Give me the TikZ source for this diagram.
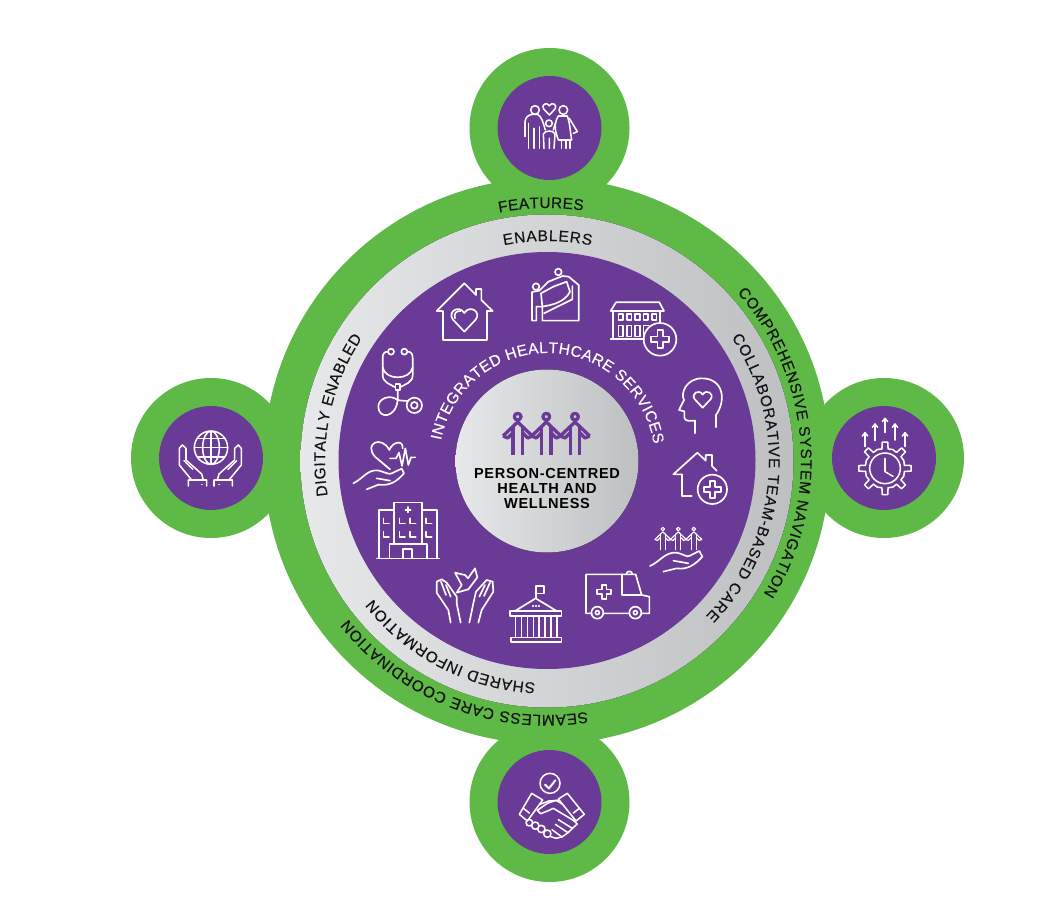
\documentclass[tikz,border=0pt]{standalone}
\usepackage{fontspec}
\setmainfont{Liberation Sans}
\newfontfamily\cfont[LetterSpace=5]{Liberation Sans}
\newfontfamily\afont[FakeBold=0.25]{Liberation Sans}
\usetikzlibrary{decorations.text,arrows.meta}
\definecolor{grn}{HTML}{5FB946}
\definecolor{pur}{HTML}{6A3B96}
\definecolor{gl}{HTML}{E7E8E9}
\definecolor{gd}{HTML}{BDBFC1}
\definecolor{ink}{HTML}{141414}
\tikzset{
  ic/.style={draw=white,line width=1.25pt,line join=round,line cap=round},
  sm/.style={draw=white,line width=1.15pt,line join=round,line cap=round},
  za/.style={shift={(340,250)},x=.25pt,y=-.25pt},
  zb/.style={shift={(340,440)},x=.25pt,y=-.25pt},
  zs/.style={shift={(#1)},x=.25pt,y=-.25pt},
  ringshade/.style={left color=gl,right color=gd},
}
\newcommand\arcT[6]{\path[decorate,decoration={text along path,text={|\color{#4}\afont\fontsize{#6}{13}\selectfont|#5},text align={fit to path}}] (#2:#1) arc[start angle=#2,end angle=#3,radius=#1];}
\newcommand\hrt[3]{\draw[shift={(#1,#2)},scale=#3] (0,1) -- (-.85,.1) .. controls (-1.3,-.5) and (-.4,-1.05) .. (0,-.4) .. controls (.4,-1.05) and (1.3,-.5) .. (.85,.1) -- cycle;}
\newcommand\crs[4]{\draw[shift={(#1,#2)}] (-#4,-#3) -- (#4,-#3) -- (#4,-#4) -- (#3,-#4) -- (#3,#4) -- (#4,#4) -- (#4,#3) -- (-#4,#3) -- (-#4,#4) -- (-#3,#4) -- (-#3,-#4) -- (-#4,-#4) -- cycle;}
\newcommand\chn{\foreach \c in {-86,0,86}{
  \draw (\c,0) circle[radius=10];
  \draw (\c-14,115) -- (\c-14,28) (\c+14,115) -- (\c+14,28);
  \draw (\c-44,58) -- (\c,16) -- (\c+44,58);
  \draw (\c-14,48) -- (\c-30,64) -- (\c-44,58) (\c+14,48) -- (\c+30,64) -- (\c+44,58);
}}
\begin{document}
\begin{tikzpicture}[x=.75pt,y=-.75pt]
\useasboundingbox (0,0) rectangle (1064,909);
\fill[white] (0,0) rectangle (1064,909);
% satellites
\fill[grn] (549.5,128) circle[radius=80];
\fill[grn] (211,458) circle[radius=80];
\fill[grn] (884,458) circle[radius=80];
\fill[grn] (549.5,802) circle[radius=80];
% main rings
\fill[grn] (547,461) circle[radius=283];
\fill[ringshade] (547,461) circle[radius=246.5];
\fill[pur] (547,460.5) circle[radius=208.5];
\fill[ringshade] (547,461) circle[radius=91.5];
\fill[pur] (549.5,128) circle[radius=52];
\fill[pur] (211,458) circle[radius=52];
\fill[pur] (884,458) circle[radius=52];
\fill[pur] (549.5,802) circle[radius=52];
% curved labels
\begin{scope}[shift={(547,461)},y=.75pt]
\arcT{253}{100.9}{81.8}{ink}{FEATURES}{11.6}
\arcT{220}{101.3}{78.4}{ink}{ENABLERS}{11.6}
\arcT{254}{41.5}{-31.5}{ink}{COMPREHENSIVE SYSTEM NAVIGATION}{11.5}
\arcT{222}{33.8}{-44.3}{ink}{COLLABORATIVE TEAM-BASED CARE}{11.5}
\arcT{254}{-80.9}{-141.5}{ink}{SEAMLESS CARE COORDINATION}{11.6}
\arcT{222}{-93}{-141.6}{ink}{SHARED INFORMATION}{11.6}
\arcT{222}{189}{146.3}{ink}{DIGITALLY ENABLED}{11.6}
\arcT{108}{169}{9}{white}{INTEGRATED HEALTHCARE SERVICES}{11.6}
\end{scope}
% centre
\node[font=\cfont\bfseries\fontsize{10.9}{11.25}\selectfont,align=center,text=black,inner sep=0] (centre) at (547,488) {PERSON-CENTRED\\HEALTH AND\\WELLNESS};
\begin{scope}[zs={450,370},shift={(289,140)},draw=pur,line width=2.5pt,line join=round]
\chn
\end{scope}
% ---- ring icons, first crop
\begin{scope}[za,ic]
% house heart
\draw (306,183) -- (290,183) -- (373,100) -- (408,135) -- (408,117) -- (424,117) -- (424,150) -- (458,183) -- (440,183);
\draw (308,183) -- (308,270) -- (440,270) -- (440,183);
\hrt{373}{205}{40}
\draw (345,205) .. controls (340,190) and (350,182) .. (362,183);
% climbers
\draw (655,66) circle[radius=10];
\draw (588,110) circle[radius=10];
\draw (598,122) -- (576,126) -- (576,212) -- (589,212) -- (589,170) -- (607,170) -- (607,212) -- (716,212) -- (716,105) -- (686,80) -- (668,78) -- (625,95) -- (598,122);
\draw (603,130) -- (640,110) -- (680,95) -- (690,125) .. controls (675,155) and (640,165) .. (605,170);
\draw (603,130) -- (607,170);
\draw (697,108) -- (697,148) -- (612,190);
% hospital plus
\draw (812,183) -- (828,157) -- (958,157) -- (972,183) -- cycle;
\draw (818,183) -- (818,267) (812,267) -- (912,267) (960,183) -- (960,218);
\foreach \x in {835,860,885,910,935}{\draw (\x,193) rectangle ++(14,17);}
\foreach \x in {835,860,885}{\draw (\x,227) rectangle ++(14,33);}
\draw (910,260) -- (910,227) -- (926,227);
\draw (960,268) circle[radius=49];
\crs{960}{268}{27}{8}
% head heart
\draw (1128,532) -- (1128,495) .. controls (1160,450) and (1150,385) .. (1085,385) .. controls (1040,385) and (1020,430) .. (1032,450) -- (1017,480) -- (1033,484) -- (1033,502) .. controls (1035,516) and (1050,512) .. (1065,512) -- (1065,550);
\hrt{1088}{445}{28}
% stethoscope
\draw (153,305) circle[radius=9] (193,305) circle[radius=9];
\draw (143,305) .. controls (132,305) and (128,312) .. (128,325) -- (128,375) .. controls (128,398) and (150,402) .. (166,412);
\draw (203,305) .. controls (214,305) and (218,312) .. (218,325) -- (218,375) .. controls (218,398) and (196,402) .. (180,412);
\draw (128,352) .. controls (135,392) and (211,392) .. (218,352);
\draw (166,402) rectangle (180,420);
\draw (173,420) -- (173,450) .. controls (150,432) and (115,445) .. (115,470) .. controls (115,508) and (168,505) .. (173,450) .. controls (180,452) and (190,452) .. (203,453);
\draw (223,466) circle[radius=23] (223,466) circle[radius=10];
\end{scope}
\begin{scope}[zb,ic]
% heart in hand
\draw (150,88) -- (105,50) .. controls (70,10) and (125,-15) .. (148,30) .. controls (158,5) and (190,-2) .. (188,25);
\draw (150,55) -- (168,55) -- (177,38) -- (186,78) -- (196,25) -- (205,75) -- (213,52) -- (226,52);
\draw (40,130) .. controls (70,115) and (85,85) .. (118,92) .. controls (135,97) and (150,105) .. (155,100) -- (185,86) -- (192,100) .. controls (170,125) and (150,138) .. (115,134) -- (80,148);
\draw (110,115) -- (150,122);
% hospital
\draw (162,310) -- (162,187) -- (246,187) -- (246,310);
\draw (162,210) -- (116,210) -- (116,355) (246,210) -- (290,210) -- (290,355) (110,355) -- (298,355);
\draw (148,355) -- (148,312) -- (260,312) -- (260,355);
\draw (188,355) -- (188,327) -- (216,327) -- (216,355);
\draw (196,209) -- (212,209) (204,201) -- (204,217);
\foreach \x in {130,178,210,258}{\foreach \y in {235,275}{\draw (\x,\y) -- ++(0,15) -- ++(17,0);}}
% dove hands
\draw (332,548) -- (325,510) -- (290,458) -- (290,425) -- (305,418) -- (320,428) -- (350,470) -- (350,490) -- (362,548);
\draw (303,425) -- (318,465) (318,435) -- (332,470);
\draw (388,548) -- (400,490) -- (408,455) -- (440,420) -- (458,425) -- (460,455) -- (425,510) -- (415,548);
\draw (450,428) -- (432,468) (435,435) -- (418,470);
\draw (345,398) -- (375,405) -- (384,415) -- (405,385) -- (412,412) -- (385,448) -- (350,458) -- (365,435) -- cycle;
% courthouse
\draw (587,475) -- (587,438) -- (612,438) -- (612,460) -- (587,460);
\draw (525,513) -- (587,475) -- (650,513) -- cycle;
\draw (510,513) rectangle (664,528);
\draw (512,592) rectangle (664,606);
\foreach \x in {526,544,562,580,596,614,632,650}{\draw (\x,528) -- (\x,592);}
\draw (578,498) -- (580,498) (587,498) -- (589,498) (596,498) -- (598,498);
% ambulance
\draw (755,520) -- (738,520) -- (738,403) -- (887,403) -- (905,465) -- (928,470) -- (928,520) -- (905,520) (790,520) -- (868,520);
\draw (845,403) -- (845,465) -- (905,465);
\draw (859,403) .. controls (859,391) and (877,391) .. (877,403);
\draw (772,518) circle[radius=18] (772,518) circle[radius=6];
\draw (886,518) circle[radius=18] (886,518) circle[radius=6];
\crs{792}{455}{21}{7}
% house plus
\draw (1025,103) -- (1000,103) -- (1072,38) -- (1097,62) -- (1097,45) -- (1116,45) -- (1116,78) -- (1130,92);
\draw (1025,103) -- (1025,168) -- (1055,168);
\draw (1117,148) circle[radius=44];
\crs{1117}{148}{25}{8}
% people in hand
\begin{scope}[shift={(1015,267)},scale=.54,line width=.85pt]
\chn
\end{scope}
\draw (930,378) .. controls (960,365) and (975,335) .. (1010,338) .. controls (1030,342) and (1040,352) .. (1048,348) -- (1078,333) -- (1087,350) .. controls (1065,375) and (1040,390) .. (1010,385) -- (970,395);
\draw (1000,362) -- (1045,370);
\end{scope}
% ---- family
\begin{scope}[zs={490,70},sm]
\hrt{178}{115}{20}
\draw (135,120) circle[radius=13] (220,120) circle[radius=13] (177,160) circle[radius=10];
\draw (105,200) -- (105,155) .. controls (107,140) and (115,135) .. (128,133) -- (142,133) .. controls (155,138) and (160,160) .. (166,180);
\draw (115,200) -- (115,160) (115,185) -- (115,235) (132,175) -- (132,235) (148,170) -- (148,235);
\draw (205,138) .. controls (195,155) and (190,170) .. (205,210) -- (245,210) .. controls (240,180) and (240,160) .. (232,138) -- cycle;
\draw (238,145) -- (262,185) -- (250,190);
\draw (215,210) -- (215,235) (228,210) -- (228,235) (240,210) -- (240,235);
\draw (162,235) -- (160,192) .. controls (165,180) and (190,180) .. (195,192) -- (192,235) (178,205) -- (178,235);
\draw (196,160) -- (190,180);
\end{scope}
% ---- globe
\begin{scope}[zs={150,400},sm]
\draw (183,143) circle[radius=50] (183,143) ellipse[x radius=25,y radius=50];
\draw (183,93) -- (183,193) (133,143) -- (233,143) (143,115) -- (223,115) (143,171) -- (223,171);
\draw (115,258) -- (115,240) -- (170,240) -- (170,258) (125,240) -- (88,195) -- (88,145) -- (97,135) -- (108,145) -- (108,180) -- (155,222) -- (160,240);
\draw (102,182) -- (128,208);
\draw (247,258) -- (247,240) -- (192,240) -- (192,258) (237,240) -- (274,195) -- (274,145) -- (265,135) -- (254,145) -- (254,180) -- (207,222) -- (202,240);
\draw (260,182) -- (234,208);
\draw (155,254) -- (156,254) (207,254) -- (208,254);
\end{scope}
% ---- gear clock
\begin{scope}[zs={825,400},sm]
\draw (180,205) circle[radius=46];
\draw (180,175) -- (180,215) -- (204,229);
\begin{scope}[shift={(180,205)}]
\foreach \a in {0,45,...,315}{
  \draw ({\a-9}:59) -- ({\a-6}:79) -- ({\a+6}:79) -- ({\a+9}:59) -- ({\a+22.5}:61) -- ({\a+36}:59);
}
\end{scope}
\foreach \x/\ya/\yb in {120/140/98,150/122/72,180/98/55,210/120/72,240/140/98}{
  \draw (\x,\ya) -- (\x,\yb) (\x-8,\yb+10) -- (\x,\yb) -- (\x+8,\yb+10);
}
\end{scope}
% ---- handshake
\begin{scope}[zs={490,745},sm]
\draw (180,115) circle[radius=30];
\draw[line width=1.5pt] (165,119) -- (177,130) -- (196,106);
\draw (125,145) -- (88,208) -- (112,228) -- (158,165) -- cycle;
\draw (232,145) -- (205,162) -- (258,228) -- (283,208) -- cycle;
\draw (100,190) -- (118,204) (268,190) -- (250,204);
\draw (150,178) -- (176,168) -- (208,166);
\draw (218,178) -- (198,166) -- (172,175) -- (142,196) -- (152,206) -- (175,197) -- (190,190) -- (250,226) -- (262,237) -- (247,250) -- (205,224);
\draw (247,250) -- (234,263) -- (196,238);
\draw (234,263) -- (216,276) -- (186,254);
\draw (118,233) circle[radius=10] (136,242) circle[radius=11] (154,252) circle[radius=11] (172,266) circle[radius=11];
\draw (216,276) -- (198,280) -- (180,274);
\end{scope}
\end{tikzpicture}
\end{document}
